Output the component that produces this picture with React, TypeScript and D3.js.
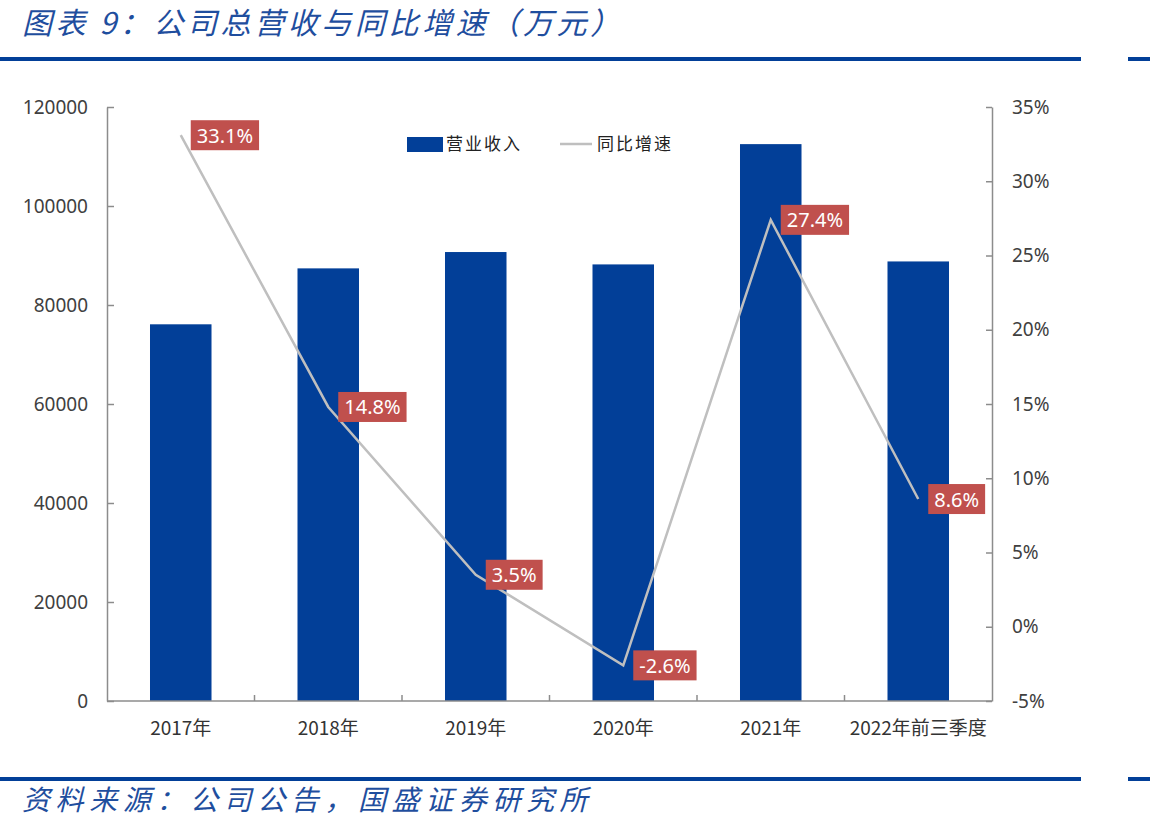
import { useEffect, useRef } from 'react';
import * as d3 from 'd3';

const categories = ['2017年', '2018年', '2019年', '2020年', '2021年', '2022年前三季度'];
const revenue = [76100, 87400, 90700, 88200, 112500, 88800];
const growth = [33.1, 14.8, 3.5, -2.6, 27.4, 8.6];
const leftTicks = [0, 20000, 40000, 60000, 80000, 100000, 120000];
const rightTicks = [-5, 0, 5, 10, 15, 20, 25, 30, 35];

const WIDTH = 1150;
const HEIGHT = 830;
const BLUE = '#023F98';
const TITLE_BLUE = '#1F4E9E';
const RED = '#C0504D';
const LINE_GRAY = '#BFBFBF';
const AXIS_GRAY = '#8C8C8C';
const NUM_FONT = '"Noto Sans", "Liberation Sans", sans-serif';
const CJK_FONT = '"Noto Sans CJK SC", "Noto Sans", sans-serif';

export default function App() {
	const svgRef = useRef<SVGSVGElement>(null);

	useEffect(() => {
		if (!svgRef.current) return;
		const svg = d3.select(svgRef.current);
		svg.selectAll('*').remove();

		const plot = { left: 107, right: 992, top: 107, bottom: 701 };

		const x = d3
			.scaleBand<string>()
			.domain(categories)
			.range([plot.left, plot.right])
			.paddingInner(0.583)
			.paddingOuter(0.2915);

		const xPoint = (c: string) => (x(c) ?? 0) + x.bandwidth() / 2;

		const yLeft = d3.scaleLinear().domain([0, 120000]).range([plot.bottom, plot.top]);
		const yRight = d3.scaleLinear().domain([-5, 35]).range([plot.bottom, plot.top]);

		// Header and footer rules
		const rules = [59, 779];
		rules.forEach((yy) => {
			svg.append('rect').attr('x', 0).attr('y', yy - 2).attr('width', 1081).attr('height', 4).attr('fill', BLUE);
			svg.append('rect').attr('x', 1128).attr('y', yy - 2).attr('width', 22).attr('height', 4).attr('fill', BLUE);
		});

		svg
			.append('text')
			.attr('x', 22)
			.attr('y', 34)
			.attr('font-family', CJK_FONT)
			.attr('font-style', 'italic')
			.attr('font-size', 30)
			.attr('letter-spacing', 3.6)
			.attr('fill', TITLE_BLUE)
			.text('图表 9：公司总营收与同比增速（万元）');

		svg
			.append('text')
			.attr('x', 22)
			.attr('y', 810)
			.attr('font-family', CJK_FONT)
			.attr('font-style', 'italic')
			.attr('font-size', 28)
			.attr('letter-spacing', 5.6)
			.attr('fill', TITLE_BLUE)
			.text('资料来源：公司公告，国盛证券研究所');

		// Bars
		svg
			.append('g')
			.selectAll('rect')
			.data(categories)
			.join('rect')
			.attr('x', (c) => x(c) ?? 0)
			.attr('y', (_, i) => yLeft(revenue[i]))
			.attr('width', x.bandwidth())
			.attr('height', (_, i) => yLeft(0) - yLeft(revenue[i]))
			.attr('fill', BLUE);

		// Left axis
		const leftAxis = svg
			.append('g')
			.attr('transform', `translate(${plot.left},0)`)
			.call(d3.axisLeft(yLeft).tickValues(leftTicks).tickSizeInner(-7).tickSizeOuter(0).tickPadding(19).tickFormat(d3.format('d') as any));
		leftAxis.select('.domain').attr('stroke', AXIS_GRAY).attr('stroke-width', 1.5);
		leftAxis.selectAll('line').attr('stroke', AXIS_GRAY).attr('stroke-width', 1.5);
		leftAxis
			.selectAll('text')
			.attr('font-family', NUM_FONT)
			.attr('font-size', 19)
			.attr('fill', '#404040');

		// Right axis
		const rightAxis = svg
			.append('g')
			.attr('transform', `translate(${plot.right},0)`)
			.call(d3.axisRight(yRight).tickValues(rightTicks).tickSizeInner(-6).tickSizeOuter(0).tickPadding(20).tickFormat((d) => `${d}%`));
		rightAxis.select('.domain').attr('stroke', AXIS_GRAY).attr('stroke-width', 1.5);
		rightAxis.selectAll('line').attr('stroke', AXIS_GRAY).attr('stroke-width', 1.5);
		rightAxis
			.selectAll('text')
			.attr('font-family', NUM_FONT)
			.attr('font-size', 19)
			.attr('fill', '#404040');

		// Bottom axis
		const bottom = svg.append('g');
		bottom
			.append('line')
			.attr('x1', plot.left)
			.attr('x2', plot.right)
			.attr('y1', plot.bottom)
			.attr('y2', plot.bottom)
			.attr('stroke', AXIS_GRAY)
			.attr('stroke-width', 1.5);
		bottom
			.selectAll('line.tick')
			.data(categories.slice(1))
			.join('line')
			.attr('class', 'tick')
			.attr('x1', (c) => (x(c) ?? 0) - (x.step() - x.bandwidth()) / 2)
			.attr('x2', (c) => (x(c) ?? 0) - (x.step() - x.bandwidth()) / 2)
			.attr('y1', plot.bottom)
			.attr('y2', plot.bottom - 6)
			.attr('stroke', AXIS_GRAY)
			.attr('stroke-width', 1.5);
		bottom
			.selectAll('text')
			.data(categories)
			.join('text')
			.attr('x', (c) => xPoint(c))
			.attr('y', 735)
			.attr('text-anchor', 'middle')
			.attr('font-family', CJK_FONT)
			.attr('font-size', 19)
			.attr('fill', '#333333')
			.text((c) => c);

		// Growth line
		const line = d3
			.line<number>()
			.x((_, i) => xPoint(categories[i]))
			.y((d) => yRight(d));
		svg
			.append('path')
			.datum(growth)
			.attr('fill', 'none')
			.attr('stroke', LINE_GRAY)
			.attr('stroke-width', 2.5)
			.attr('d', line);

		// Value labels
		const labels = svg
			.append('g')
			.selectAll('g')
			.data(growth)
			.join('g')
			.attr('transform', (d, i) => `translate(${xPoint(categories[i]) + 10},${yRight(d)})`);
		const labelText = labels
			.append('text')
			.attr('x', 6)
			.attr('y', 7.5)
			.attr('font-family', NUM_FONT)
			.attr('font-size', 20)
			.attr('fill', '#ffffff')
			.text((d) => `${d.toFixed(1)}%`);
		labelText.each(function () {
			const w = (this as SVGTextElement).getComputedTextLength();
			d3.select((this as SVGTextElement).parentNode as SVGGElement)
				.insert('rect', 'text')
				.attr('x', 0)
				.attr('y', -15)
				.attr('width', w + 12)
				.attr('height', 30)
				.attr('fill', RED);
		});

		// Legend
		const legend = svg.append('g').attr('font-family', CJK_FONT).attr('font-size', 17).attr('fill', '#222222');
		legend.append('rect').attr('x', 407).attr('y', 137).attr('width', 36).attr('height', 15).attr('fill', BLUE);
		legend.append('text').attr('x', 446).attr('y', 150).attr('letter-spacing', 2).text('营业收入');
		legend
			.append('line')
			.attr('x1', 560)
			.attr('x2', 592)
			.attr('y1', 144)
			.attr('y2', 144)
			.attr('stroke', LINE_GRAY)
			.attr('stroke-width', 2.5);
		legend.append('text').attr('x', 597).attr('y', 150).attr('letter-spacing', 2).text('同比增速');
	}, []);

	return (
		<svg
			ref={svgRef}
			width={WIDTH}
			height={HEIGHT}
			style={{ position: 'absolute', left: 0, top: 0, background: '#ffffff' }}
		></svg>
	);
}
